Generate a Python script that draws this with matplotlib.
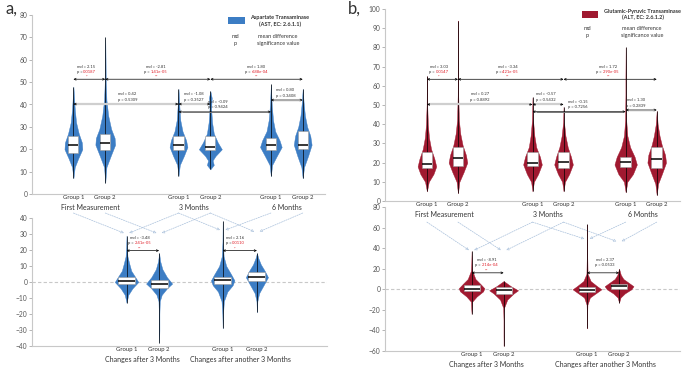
import numpy as np
import matplotlib
matplotlib.use('Agg')
import matplotlib.pyplot as plt
from matplotlib.patches import Rectangle

plt.rcParams['font.family'] = ['Lato', 'DejaVu Sans']

# ---------------- data ----------------
groups = ['Group 1', 'Group 2']
top_phases = ['First Measurement', '3 Months', '6 Months']
change_phases = ['Changes after 3 Months', 'Changes after another 3 Months']

# a) AST levels, violin outline: y knots and relative width at each knot
ast_y = [[7, 12, 16, 20, 23, 27, 32, 38, 44, 48],
         [5, 12, 17, 22, 25, 29, 35, 42, 50, 60, 70],
         [8, 13, 17, 21, 24, 28, 33, 39, 47],
         [11, 13, 15, 17, 20, 23, 27, 32, 38, 43, 46],
         [8, 13, 17, 21, 24, 28, 33, 40, 49],
         [7, 12, 17, 22, 26, 30, 35, 41, 47]]
ast_w = [[0, .15, .55, 1, .95, .6, .3, .15, .06, 0],
         [0, .12, .55, 1, .95, .6, .3, .12, .05, .03, 0],
         [0, .15, .6, 1, .85, .45, .2, .1, 0],
         [0, .3, .2, .45, 1, .65, .3, .15, .07, .12, 0],
         [0, .12, .55, 1, .8, .4, .2, .08, 0],
         [0, .15, .6, 1, .85, .5, .25, .1, 0]]
ast_q1 = [18.5, 19.5, 19.5, 19.5, 19.5, 20]
ast_med = [22, 23, 22, 21, 22, 22]
ast_q3 = [26, 27, 26, 26, 25, 28]

ast_chg_y = [[-13, -8, -4, 0, 3, 7, 11, 16, 22, 29],
             [-38, -30, -20, -12, -8, -4, -1, 3, 8, 13, 18],
             [-29, -20, -12, -6, -2, 1, 5, 10, 16, 25, 38],
             [-19, -12, -7, -2, 3, 7, 11, 15, 18]]
ast_chg_w = [[0, .15, .5, 1, .75, .4, .25, .08, .03, 0],
             [0, .02, .02, .05, .2, .6, 1, .6, .25, .08, 0],
             [0, .03, .1, .4, .85, 1, .7, .3, .08, .02, 0],
             [0, .04, .2, .6, 1, .7, .35, .12, 0]]
ast_chg_q1 = [-1.5, -3.5, -1.5, 0.6]
ast_chg_med = [0.5, -1.5, 1.2, 3.3]
ast_chg_q3 = [3, 1.2, 3.3, 6]

ast_md = ['2.15', '-2.81', '1.80', '0.42', '-1.08', '-0.09', '0.80']
ast_p = ['0.0187', '1.41e-05', '6.88e-04', '0.5309', '0.3527', '0.9424', '0.3408']
ast_stars = ['*', '**', '**', '', '', '', '']
ast_chg_md = ['-3.48', '2.16']
ast_chg_p = ['2.41e-05', '0.0110']
ast_chg_stars = ['**', '*']

# b) ALT levels
alt_y = [[5, 10, 14, 18, 22, 27, 33, 40, 50, 58, 65],
         [4, 10, 15, 20, 24, 29, 35, 42, 55, 70, 94],
         [5, 10, 14, 19, 23, 28, 34, 42, 54],
         [5, 10, 14, 19, 23, 28, 34, 41, 49],
         [4.5, 10, 14, 19, 23, 28, 34, 42, 55, 65, 80],
         [3, 9, 14, 20, 24, 29, 34, 40, 47]]
alt_w = [[0, .2, .7, 1, .8, .45, .22, .1, .03, .02, 0],
         [0, .15, .6, 1, .85, .5, .25, .1, .03, .02, 0],
         [0, .15, .6, 1, .8, .4, .2, .06, 0],
         [0, .15, .6, 1, .8, .45, .2, .05, 0],
         [0, .15, .65, 1, .8, .4, .15, .05, .02, .02, 0],
         [0, .15, .55, 1, .9, .55, .3, .1, 0]]
alt_q1 = [17, 18.2, 18.2, 17, 17.5, 17]
alt_med = [19.1, 22.2, 20, 20.4, 20.4, 22]
alt_q3 = [25.7, 28, 25.4, 25.4, 23, 28]

alt_chg_y = [[-24, -18, -12, -7, -2, 1, 5, 10, 18, 26, 37],
             [-55, -45, -30, -18, -10, -4, -1, 3, 8],
             [-38, -25, -15, -8, -3, 0, 3, 8, 15, 30, 45, 63],
             [-13, -8, -4, 0, 3, 6, 10, 14, 20]]
alt_chg_w = [[0, .03, .05, .4, .9, 1, .7, .3, .05, .02, 0],
             [0, .01, .01, .03, .25, .7, 1, .5, 0],
             [0, .01, .03, .2, .7, 1, .7, .25, .04, .02, .01, 0],
             [0, .1, .4, .85, 1, .7, .3, .12, 0]]
alt_chg_q1 = [-2, -4.2, -3, 0.5]
alt_chg_med = [0.5, -1, -0.5, 3]
alt_chg_q3 = [4.5, 2.3, 2.5, 5]

alt_md = ['3.03', '-3.34', '1.72', '0.27', '-0.57', '-0.15', '1.30']
alt_p = ['0.0147', '4.21e-05', '2.90e-05', '0.8892', '0.5432', '0.7256', '0.2839']
alt_stars = ['*', '**', '**', '', '', '', '']
alt_chg_md = ['-8.91', '2.37']
alt_chg_p = ['2.14e-04', '0.0533']
alt_chg_stars = ['**', '']

# ---------------- layout ----------------
BLUE = '#3c7dc4'
RED = '#a01930'
FS = 3.0

fig = plt.figure(figsize=(6.85, 3.7), dpi=100)


def px_axes(l, t, r, b):
    return fig.add_axes([l / 685, 1 - b / 370, (r - l) / 685, (b - t) / 370])


def style(ax, ylim, step, xlim, pos, labels, pad):
    ax.set_xlim(*xlim)
    ax.set_ylim(*ylim)
    ax.set_yticks(np.arange(ylim[0], ylim[1] + 1, step))
    ax.set_xticks(pos)
    ax.set_xticklabels(labels)
    for s in ['top', 'right']:
        ax.spines[s].set_visible(False)
    for s in ['left', 'bottom']:
        ax.spines[s].set_color('#c8c8c8')
        ax.spines[s].set_linewidth(0.8)
    ax.tick_params(axis='y', length=2, width=0.5, color='#999999',
                   labelsize=4.8, labelcolor='#555555', pad=1.5)
    ax.tick_params(axis='x', length=0, labelsize=4.3, labelcolor='#333333', pad=pad)
    ax.patch.set_alpha(0)


def draw_violins(ax, pos, ys, ws, hws, q1, med, q3, color, box_hw):
    stats = []
    for y, w, m in zip(ys, ws, med):
        stats.append(dict(coords=np.array(y, float), vals=np.array(w, float),
                          mean=m, median=m, min=min(y), max=max(y)))
    parts = ax.violin(stats, positions=pos, widths=[2 * h for h in hws],
                      showmeans=False, showextrema=False, showmedians=False)
    for b in parts['bodies']:
        b.set_facecolor(color)
        b.set_edgecolor(color)
        b.set_alpha(1)
        b.set_linewidth(0.3)
        b.set_zorder(2)
    for i, p in enumerate(pos):
        ax.vlines(p, min(ys[i]), max(ys[i]), color='k', lw=0.5, zorder=3)
        ax.add_patch(Rectangle((p - box_hw, q1[i]), 2 * box_hw, q3[i] - q1[i],
                               fc='white', ec='#9a9a9a', lw=0.4, zorder=4))
        ax.hlines(med[i], p - box_hw, p + box_hw, color='k', lw=1.1, zorder=5)


def bracket(ax, x1, x2, y, xc, md, p, stars, line=None, red=True):
    ax.annotate('', xy=(x2, y), xytext=(x1, y),
                arrowprops=dict(arrowstyle='<->', color='k', lw=0.5,
                                mutation_scale=3.5, shrinkA=0, shrinkB=0), zorder=6)
    if line is not None:
        ax.plot([x1 + 0.1, x2 - 0.1], [y, y], color=line[0], lw=line[1],
                solid_capstyle='butt', zorder=7)
    if line is None or line[0] == 'k':
        off_md, off_p = 9.1, 5.4
    else:
        off_md, off_p = 7.2, 3.2
    ax.annotate('md = ' + md, xy=(xc, y), xytext=(0, off_md), textcoords='offset points',
                ha='center', va='center', fontsize=FS, color='#333333')
    if red and stars:
        split = FS * (1.9 - (1.9 + 0.55 * len(p)) / 2)
        ax.annotate('p = ', xy=(xc, y), xytext=(split, off_p), textcoords='offset points',
                    ha='right', va='center', fontsize=FS, color='#333333')
        ax.annotate(p, xy=(xc, y), xytext=(split, off_p), textcoords='offset points',
                    ha='left', va='center', fontsize=FS, color='#e0202a')
        ax.annotate(stars, xy=(xc, y), xytext=(0, 1.6), textcoords='offset points',
                    ha='center', va='center', fontsize=FS, color='#e0202a')
    else:
        ax.annotate('p = ' + p, xy=(xc, y), xytext=(0, off_p), textcoords='offset points',
                    ha='center', va='center', fontsize=FS, color='#333333')


def phase_labels(ax, centers, names):
    for c, n in zip(centers, names):
        ax.annotate(n, xy=(c, 0), xycoords=ax.get_xaxis_transform(), xytext=(0, -10),
                    textcoords='offset points', ha='center', va='center',
                    fontsize=5, color='#333333', annotation_clip=False)


def connect(ax_top, ax_bot, top_pos, bot_pos, links, y_top, y_bot):
    for ti, bi, side in links:
        ax_bot.annotate('', xy=(bot_pos[bi] + side * 0.08, y_bot[bi]), xycoords='data',
                        xytext=(top_pos[ti], y_top), textcoords=ax_top.transData,
                        arrowprops=dict(arrowstyle='-|>', color='#a9c0db', lw=0.5,
                                        linestyle=(0, (2, 1.5)), fc='white',
                                        mutation_scale=4, shrinkA=0, shrinkB=0),
                        annotation_clip=False, zorder=1)


links = [(0, 0, -1), (1, 1, -1), (2, 0, 1), (3, 1, 1),
         (2, 2, -1), (3, 3, -1), (4, 2, 1), (5, 3, 1)]

# ---------------- panel a ----------------
pa_top = [1, 2, 4.3, 5.3, 7.2, 8.2]
pa_bot = [1, 2, 3.95, 5]
ax1 = px_axes(32, 15, 325, 194)
ax2 = px_axes(32, 218, 327, 346)
style(ax1, (0, 80), 10, (-0.3, 8.9), pa_top, groups * 3, 1)
style(ax2, (-40, 40), 10, (-1.9, 7.15), pa_bot, groups * 2, 1)

draw_violins(ax1, pa_top, ast_y, ast_w, [.28, .31, .28, .36, .34, .28],
             ast_q1, ast_med, ast_q3, BLUE, 0.16)
draw_violins(ax2, pa_bot, ast_chg_y, ast_chg_w, [.36, .4, .36, .34],
             ast_chg_q1, ast_chg_med, ast_chg_q3, BLUE, 0.26)
ax2.axhline(0, color='#c8c8c8', ls=(0, (3, 2)), lw=0.8, zorder=0)

pairs = [(0, 1), (1, 3), (3, 5), (0, 2), (2, 3), (2, 4), (4, 5)]
ys_a = [51.3, 51.3, 51.3, 40.2, 40.2, 36.7, 42]
xc_a = [1.4, 3.6, 6.75, 2.7, 4.78, 5.53, 7.66]
lines_a = [None, None, None, ('#cfcfcf', 1.6), ('#cfcfcf', 1.6), ('#777777', 0.7), ('#aaaaaa', 1.0)]
for k, (i, j) in enumerate(pairs):
    bracket(ax1, pa_top[i], pa_top[j], ys_a[k], xc_a[k], ast_md[k], ast_p[k],
            ast_stars[k], lines_a[k])
bracket(ax2, 1, 2, 19.6, 1.4, ast_chg_md[0], ast_chg_p[0], ast_chg_stars[0])
bracket(ax2, 3.95, 5, 19.6, 4.33, ast_chg_md[1], ast_chg_p[1], ast_chg_stars[1])

phase_labels(ax1, [1.53, 4.78, 7.7], top_phases)
phase_labels(ax2, [1.5, 4.5], change_phases)
connect(ax1, ax2, pa_top, pa_bot, links, -8.5, [30.6, 30.6, 32.5, 31.5])

# ---------------- panel b ----------------
pb_top = [1, 2, 4.4, 5.4, 7.4, 8.4]
pb_bot = [1, 2, 4.6, 5.6]
ax3 = px_axes(385, 9, 680, 201)
ax4 = px_axes(385, 207, 680, 351)
style(ax3, (0, 100), 10, (-0.35, 9.15), pb_top, groups * 3, 0.5)
style(ax4, (-60, 80), 20, (-1.7, 7.5), pb_bot, groups * 2, 1)

draw_violins(ax3, pb_top, alt_y, alt_w, [.3, .3, .3, .3, .36, .3],
             alt_q1, alt_med, alt_q3, RED, 0.17)
draw_violins(ax4, pb_bot, alt_chg_y, alt_chg_w, [.4, .45, .45, .45],
             alt_chg_q1, alt_chg_med, alt_chg_q3, RED, 0.25)
ax4.axhline(0, color='#c8c8c8', ls=(0, (3, 2)), lw=0.8, zorder=0)

ys_b = [63.4, 63.4, 63.4, 50.3, 50.3, 46.5, 47.4]
xc_b = [1.39, 3.6, 6.84, 2.71, 4.83, 5.87, 7.74]
for k, (i, j) in enumerate(pairs):
    bracket(ax3, pb_top[i], pb_top[j], ys_b[k], xc_b[k], alt_md[k], alt_p[k],
            alt_stars[k], lines_a[k])
bracket(ax4, 1, 2, 16, 1.47, alt_chg_md[0], alt_chg_p[0], alt_chg_stars[0])
bracket(ax4, 4.6, 5.6, 16, 5.16, alt_chg_md[1], alt_chg_p[1], alt_chg_stars[1])

phase_labels(ax3, [1.58, 4.9, 7.94], top_phases)
phase_labels(ax4, [1.47, 5.16], change_phases)
connect(ax3, ax4, pb_top, pb_bot, links, -11, [38, 38, 49, 46.6])

# ---------------- legends and panel letters ----------------
def ftext(x, y, s, **kw):
    fig.text(x / 685, 1 - y / 370, s, ha='center', va='center', color='#333333', **kw)


fig.patches.append(Rectangle((228 / 685, 1 - 24 / 370), 17 / 685, 7 / 370,
                             transform=fig.transFigure, fc=BLUE, ec='none'))
ftext(280, 18, 'Aspartate Transaminase', fontsize=4, fontweight='bold')
ftext(280, 24.5, '(AST, EC: 2.6.1.1)', fontsize=4, fontweight='bold')
ftext(235, 36, 'md', fontsize=4)
ftext(235, 43, 'p', fontsize=4)
ftext(278, 36, 'mean difference', fontsize=4)
ftext(278, 43, 'significance value', fontsize=4)

fig.patches.append(Rectangle((582 / 685, 1 - 18 / 370), 16 / 685, 7 / 370,
                             transform=fig.transFigure, fc=RED, ec='none'))
ftext(643, 11, 'Glutamic-Pyruvic Transaminase', fontsize=4, fontweight='bold')
ftext(643, 17.5, '(ALT, EC: 2.6.1.2)', fontsize=4, fontweight='bold')
ftext(587, 29, 'md', fontsize=4)
ftext(587, 36, 'p', fontsize=4)
ftext(642, 29, 'mean difference', fontsize=4)
ftext(642, 36, 'significance value', fontsize=4)

ftext(11, 9, 'a,', fontsize=12)
ftext(354, 9, 'b,', fontsize=12)

fig.savefig('out.png', dpi=100)
